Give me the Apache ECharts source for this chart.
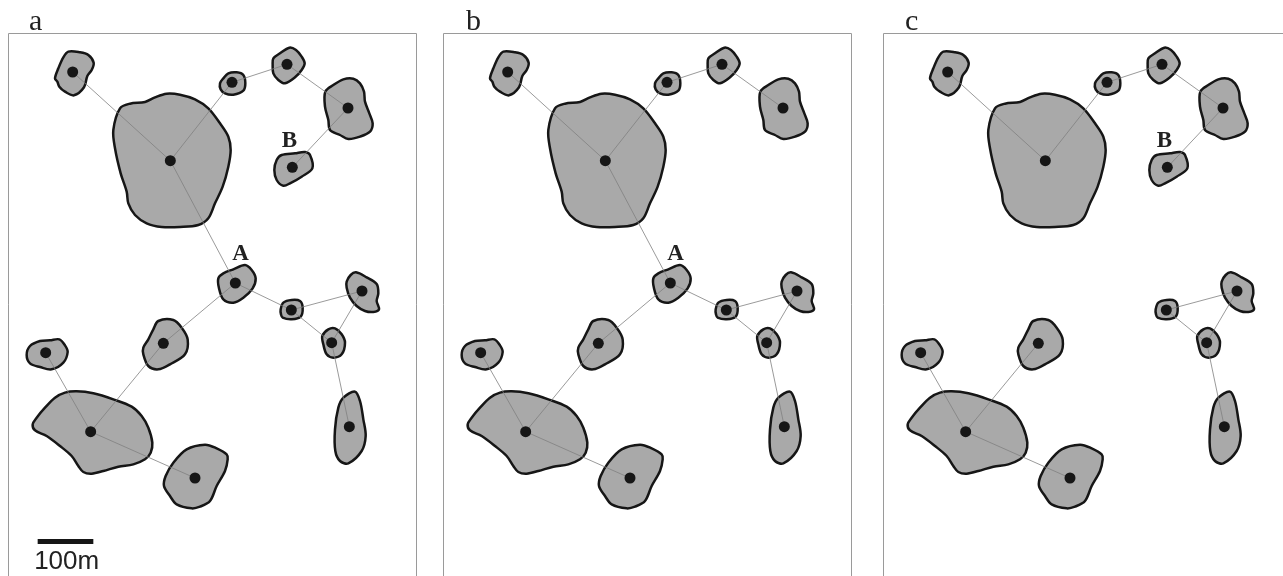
<!DOCTYPE html>
<html><head><meta charset="utf-8">
<style>html,body{margin:0;padding:0;background:#fff;overflow:hidden}#c{width:1283px;height:576px}</style>
<script src="https://cdn.jsdelivr.net/npm/echarts@6/dist/echarts.min.js"></script>
</head><body><div id="c"></div>
<script>
// All coordinates in map units (1 map unit = 1/3 px)
const patchNames = ['nw','core','p3','p4','p5','B','A','e1','e2','e3','e4','w1','w2','sw','s1'];
const nodeNw=[218,216], nodeCore=[511,482], nodeP3=[696,247], nodeP4=[861,193], nodeP5=[1044,324], nodeB=[877,502],
      nodeA=[706,849], nodeE1=[1086,873], nodeE2=[874,930], nodeE3=[995,1028], nodeE4=[1048,1280],
      nodeW1=[490,1030], nodeW2=[137,1058], nodeSw=[272,1295], nodeS1=[585,1434];
const outlineNw=[[205,155],[240,157],[265,165],[281,188],[275,210],[262,228],[252,262],[222,286],[195,275],[178,260],[172,245],[165,235],[175,205],[190,172]];
const outlineCore=[[360,325],[390,311],[435,306],[465,292],[500,281],[540,284],[585,298],[625,325],[660,370],[685,410],[692,450],[685,500],[668,560],[645,610],[625,655],[595,675],[540,681],[485,681],[440,670],[405,645],[385,610],[380,575],[362,520],[345,445],[340,390]];
const outlineP3=[[660,250],[670,235],[685,220],[710,217],[730,225],[736,250],[730,272],[700,284],[675,280],[662,268]];
const outlineP4=[[820,175],[840,160],[868,143],[888,150],[905,170],[914,190],[905,210],[885,232],[855,250],[835,240],[820,220],[818,195]];
const outlineP5=[[976,275],[1000,255],[1030,238],[1060,236],[1080,250],[1092,275],[1095,305],[1108,340],[1118,370],[1110,395],[1080,410],[1045,417],[1020,405],[990,390],[985,360],[975,320]];
const outlineB=[[823,510],[830,480],[845,465],[885,460],[915,456],[930,465],[937,505],[905,530],[870,550],[850,557],[830,540]];
const outlineA=[[655,835],[670,820],[700,808],[735,795],[755,810],[767,835],[758,865],[730,893],[700,908],[670,898],[657,865]];
const outlineE1=[[1040,845],[1052,825],[1068,817],[1100,832],[1130,852],[1135,880],[1130,903],[1137,928],[1120,936],[1095,933],[1070,918],[1050,893],[1040,863]];
const outlineE2=[[842,928],[850,908],[875,900],[900,903],[908,923],[902,950],[875,958],[848,953],[843,943]];
const outlineE3=[[967,1008],[985,988],[1005,985],[1025,1003],[1035,1028],[1025,1063],[1000,1073],[980,1063],[970,1033]];
const outlineE4=[[1030,1193],[1065,1175],[1080,1203],[1090,1258],[1097,1308],[1085,1353],[1045,1390],[1020,1383],[1006,1353],[1005,1288],[1015,1223]];
const outlineW1=[[460,988],[475,963],[520,960],[545,983],[563,1018],[555,1063],[510,1093],[475,1108],[445,1098],[430,1063],[430,1043],[445,1018]];
const outlineW2=[[80,1065],[90,1038],[120,1023],[150,1021],[178,1018],[195,1036],[203,1056],[190,1088],[155,1108],[120,1101],[90,1090]];
const outlineSw=[[98,1273],[110,1253],[135,1223],[165,1193],[195,1178],[230,1174],[280,1180],[340,1198],[395,1220],[425,1248],[445,1283],[457,1328],[452,1358],[435,1378],[400,1393],[355,1400],[310,1413],[275,1421],[250,1416],[235,1398],[215,1368],[180,1338],[140,1308],[105,1291]];
const outlineS1=[[492,1458],[497,1428],[520,1388],[560,1348],[615,1334],[650,1345],[680,1363],[683,1378],[675,1413],[650,1458],[630,1503],[600,1520],[575,1525],[530,1513],[510,1488]];

const patchCentres={nw:nodeNw,core:nodeCore,p3:nodeP3,p4:nodeP4,p5:nodeP5,B:nodeB,A:nodeA,e1:nodeE1,e2:nodeE2,e3:nodeE3,e4:nodeE4,w1:nodeW1,w2:nodeW2,sw:nodeSw,s1:nodeS1};
const patchOutlines={nw:outlineNw,core:outlineCore,p3:outlineP3,p4:outlineP4,p5:outlineP5,B:outlineB,A:outlineA,e1:outlineE1,e2:outlineE2,e3:outlineE3,e4:outlineE4,w1:outlineW1,w2:outlineW2,sw:outlineSw,s1:outlineS1};
const links=[['nw','core'],['core','p3'],['core','A'],['p3','p4'],['p4','p5'],['p5','B'],['A','e2'],['A','w1'],['e1','e2'],['e1','e3'],['e2','e3'],['e3','e4'],['w1','sw'],['w2','sw'],['sw','s1']];
const panelNames=['a','b','c'];
const panelMissing=[[],['B'],['A']];
const panelLabels=[[['A',722,762],['B',868,423]],[['A',722,762]],[['B',868,423]]];
const scaleBar=[[113,1623],[280,1623]];
const scaleText=['100m',200,1686];
const frameLeft=[[25.5,100.5],[25.5,1728]], frameTop=[[25.5,100.5],[1249.5,100.5]], frameRight=[[1249.5,100.5],[1249.5,1728]];

const panelLeft=[8.5,443.5,883.5], panelWidth=[408,408,399.5], panelTitleX=[24,461,900];
const grids=[],xAxes=[],yAxes=[],series=[],titles=[];
panelNames.forEach((name,i)=>{
  grids.push({left:panelLeft[i],top:33.5,width:panelWidth[i],height:542.5,show:false});
  xAxes.push({gridIndex:i,type:'value',min:25.5,max:25.5+panelWidth[i]*3,show:false});
  yAxes.push({gridIndex:i,type:'value',min:100.5,max:1728,inverse:true,show:false});
  titles.push({text:name,left:panelTitleX[i],top:2,textStyle:{fontFamily:'Liberation Serif',fontSize:30,fontWeight:'normal',color:'#222'}});
  const keep=patchNames.filter(k=>!panelMissing[i].includes(k));
  const base={xAxisIndex:i,yAxisIndex:i,animation:false,silent:true};
  const frame=i===2?[frameLeft,frameTop]:[frameLeft,frameTop,frameRight];
  series.push({...base,type:'lines',coordinateSystem:'cartesian2d',z:1,
    lineStyle:{color:'#9a9a9a',width:1,opacity:1,curveness:0},
    data:frame.map(f=>({coords:f}))});
  series.push({...base,type:'custom',coordinateSystem:'cartesian2d',clip:false,z:2,
    data:keep.map(k=>[patchCentres[k][0],patchCentres[k][1],k]),
    encode:{x:0,y:1},
    renderItem:(params,api)=>{
      const k=keep[params.dataIndex];
      return {type:'polygon',shape:{points:patchOutlines[k].map(p=>api.coord(p)),smooth:0.33},
        style:{fill:'#a9a9a9',stroke:'#161616',lineWidth:2.5,lineJoin:'round'}};
    }});
  series.push({...base,type:'lines',coordinateSystem:'cartesian2d',z:3,
    lineStyle:{color:'#808080',width:0.8,opacity:1,curveness:0},
    data:links.filter(l=>keep.includes(l[0])&&keep.includes(l[1])).map(l=>({coords:[patchCentres[l[0]],patchCentres[l[1]]]}))});
  series.push({...base,type:'scatter',z:4,clip:false,symbol:'circle',symbolSize:11,itemStyle:{color:'#161616',opacity:1},
    data:keep.map(k=>patchCentres[k])});
  series.push({...base,type:'scatter',z:5,clip:false,symbolSize:0,itemStyle:{opacity:1},
    label:{show:true,position:'inside',fontFamily:'Liberation Serif',fontWeight:'bold',fontSize:23,color:'#222',opacity:1,formatter:p=>p.data[2]},
    data:panelLabels[i].map(l=>[l[1],l[2],l[0]])});
  if(i===0){
    series.push({...base,type:'lines',coordinateSystem:'cartesian2d',z:5,lineStyle:{color:'#161616',width:5,opacity:1,curveness:0},
      data:[{coords:scaleBar}]});
    series.push({...base,type:'scatter',z:5,clip:false,symbolSize:0,itemStyle:{opacity:1},
      label:{show:true,position:'inside',fontFamily:'Liberation Sans',fontSize:26,color:'#222',opacity:1,formatter:p=>p.data[2]},
      data:[[scaleText[1],scaleText[2],scaleText[0]]]});
  }
});
const chart=echarts.init(document.getElementById('c'),null,{renderer:'canvas'});
chart.setOption({animation:false,backgroundColor:'#fff',title:titles,tooltip:{show:false},grid:grids,xAxis:xAxes,yAxis:yAxes,series});
</script></body></html>
